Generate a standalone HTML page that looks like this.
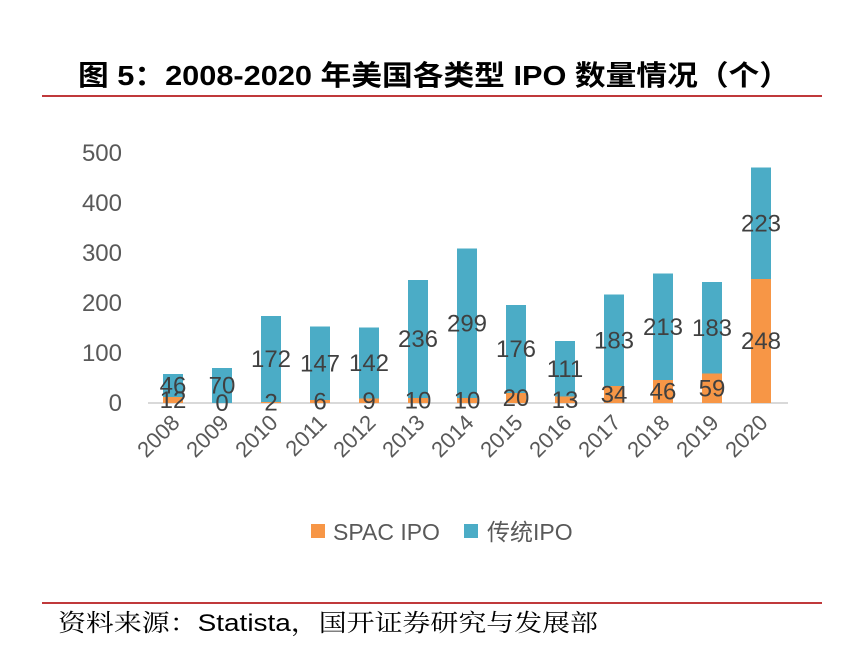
<!DOCTYPE html>
<html><head><meta charset="utf-8"><style>
body{margin:0;background:#fff;width:850px;height:658px;overflow:hidden;font-family:"Liberation Sans","Noto Sans CJK SC",sans-serif}
</style></head><body>
<svg width="850" height="658">
<text x="78" y="85" textLength="712" lengthAdjust="spacingAndGlyphs" font-size="28" font-weight="bold" fill="#000" font-family="Liberation Sans,Noto Sans CJK SC,sans-serif">图 5：2008-2020 年美国各类型 IPO 数量情况（个）</text>
<line x1="42" y1="96" x2="822" y2="96" stroke="#c0393b" stroke-width="2"/>
<g id="yaxis"></g>
<line x1="148" y1="403" x2="788" y2="403" stroke="#d9d9d9" stroke-width="2"/>
<g id="bars"></g>
<g>
<rect x="311" y="524" width="14" height="14" fill="#f79646"/>
<text x="333" y="540" font-size="23" fill="#595959">SPAC IPO</text>
<rect x="464" y="524" width="14" height="14" fill="#4bacc6"/>
<text x="487" y="540" font-size="23" fill="#595959">传统IPO</text>
</g>
<line x1="42" y1="603" x2="822" y2="603" stroke="#c0393b" stroke-width="2"/>
<text x="58" y="631" textLength="540" lengthAdjust="spacingAndGlyphs" font-size="24" fill="#000" font-family="Liberation Sans,Noto Serif CJK SC,serif">资料来源：Statista，国开证券研究与发展部</text>
</svg>
<script>
const years=["2008","2009","2010","2011","2012","2013","2014","2015","2016","2017","2018","2019","2020"];
const spac=[12,0,2,6,9,10,10,20,13,34,46,59,248];
const trad=[46,70,172,147,142,236,299,176,111,183,213,183,223];
const yTicks=[0,100,200,300,400,500];
const NS="http://www.w3.org/2000/svg";
const y=v=>403-v*0.5;
const x=i=>173+i*49;
function mk(t,a,p){const e=document.createElementNS(NS,t);for(const k in a)e.setAttribute(k,a[k]);p.appendChild(e);return e;}
const ya=document.getElementById('yaxis');
yTicks.forEach(v=>{const t=mk('text',{x:122,y:y(v)+8,'text-anchor':'end','font-size':24,fill:'#595959'},ya);t.textContent=v;

});
const g=document.getElementById('bars');
years.forEach((yr,i)=>{
 const cx=x(i);
 const r1=mk('rect',{x:cx-10,y:y(spac[i]),width:20,height:spac[i]*0.5,fill:'#f79646'},g);
 
 
 const r2=mk('rect',{x:cx-10,y:y(spac[i]+trad[i]),width:20,height:trad[i]*0.5,fill:'#4bacc6'},g);
 
 
 const l2=mk('text',{x:cx,y:y(spac[i]+trad[i]/2)+8,'text-anchor':'middle','font-size':24,fill:'#404040'},g);
 l2.textContent=trad[i];
 
 
 const l1=mk('text',{x:cx,y:Math.min(y(spac[i]/2)+8,411),'text-anchor':'middle','font-size':24,fill:'#404040'},g);
 l1.textContent=spac[i];
 
 
 const xl=mk('text',{x:cx+8,y:424,'text-anchor':'end','font-size':22,fill:'#595959',transform:`rotate(-45 ${cx+8} 424)`},g);
 xl.textContent=yr;
 
 
});
</script>
</body></html>
